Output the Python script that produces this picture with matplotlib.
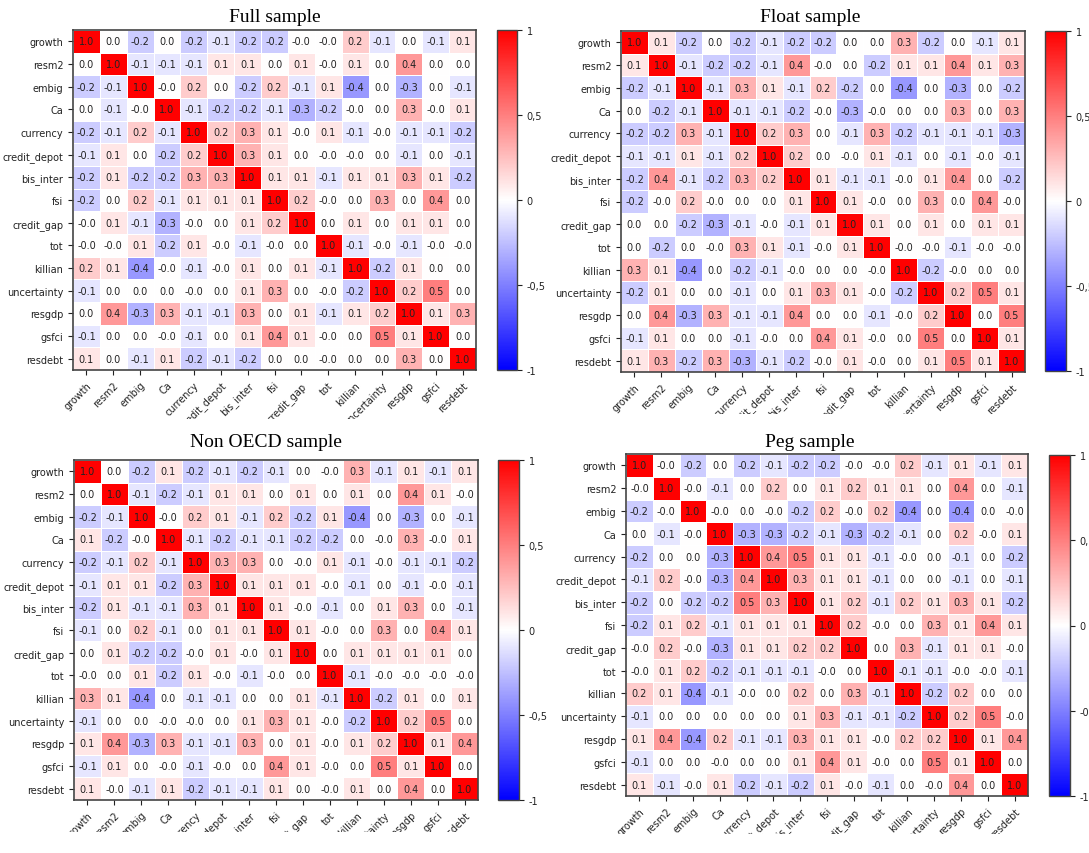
import numpy as np
import matplotlib
matplotlib.use("Agg")
from matplotlib import pyplot as plt
from matplotlib.transforms import Bbox, TransformedBbox

labels = ["growth", "resm2", "embig", "Ca", "currency", "credit_depot", "bis_inter",
          "fsi", "credit_gap", "tot", "killian", "uncertainty", "resgdp", "gsfci", "resdebt"]

full_sample = [
    [1.0, 0.0, -0.2, 0.0, -0.2, -0.1, -0.2, -0.2, -0.0, -0.0, 0.2, -0.1, 0.0, -0.1, 0.1],
    [0.0, 1.0, -0.1, -0.1, -0.1, 0.1, 0.1, 0.0, 0.1, -0.0, 0.1, 0.0, 0.4, 0.0, 0.0],
    [-0.2, -0.1, 1.0, -0.0, 0.2, 0.0, -0.2, 0.2, -0.1, 0.1, -0.4, 0.0, -0.3, 0.0, -0.1],
    [0.0, -0.1, -0.0, 1.0, -0.1, -0.2, -0.2, -0.1, -0.3, -0.2, -0.0, 0.0, 0.3, -0.0, 0.1],
    [-0.2, -0.1, 0.2, -0.1, 1.0, 0.2, 0.3, 0.1, -0.0, 0.1, -0.1, -0.0, -0.1, -0.1, -0.2],
    [-0.1, 0.1, 0.0, -0.2, 0.2, 1.0, 0.3, 0.1, 0.0, -0.0, -0.0, 0.0, -0.1, 0.0, -0.1],
    [-0.2, 0.1, -0.2, -0.2, 0.3, 0.3, 1.0, 0.1, 0.1, -0.1, 0.1, 0.1, 0.3, 0.1, -0.2],
    [-0.2, 0.0, 0.2, -0.1, 0.1, 0.1, 0.1, 1.0, 0.2, -0.0, 0.0, 0.3, 0.0, 0.4, 0.0],
    [-0.0, 0.1, -0.1, -0.3, -0.0, 0.0, 0.1, 0.2, 1.0, 0.0, 0.1, 0.0, 0.1, 0.1, 0.0],
    [-0.0, -0.0, 0.1, -0.2, 0.1, -0.0, -0.1, -0.0, 0.0, 1.0, -0.1, -0.0, -0.1, -0.0, -0.0],
    [0.2, 0.1, -0.4, -0.0, -0.1, -0.0, 0.1, 0.0, 0.1, -0.1, 1.0, -0.2, 0.1, 0.0, 0.0],
    [-0.1, 0.0, 0.0, 0.0, -0.0, 0.0, 0.1, 0.3, 0.0, -0.0, -0.2, 1.0, 0.2, 0.5, 0.0],
    [0.0, 0.4, -0.3, 0.3, -0.1, -0.1, 0.3, 0.0, 0.1, -0.1, 0.1, 0.2, 1.0, 0.1, 0.3],
    [-0.1, 0.0, 0.0, -0.0, -0.1, 0.0, 0.1, 0.4, 0.1, -0.0, 0.0, 0.5, 0.1, 1.0, 0.0],
    [0.1, 0.0, -0.1, 0.1, -0.2, -0.1, -0.2, 0.0, 0.0, -0.0, 0.0, 0.0, 0.3, 0.0, 1.0],
]

float_sample = [
    [1.0, 0.1, -0.2, 0.0, -0.2, -0.1, -0.2, -0.2, 0.0, 0.0, 0.3, -0.2, 0.0, -0.1, 0.1],
    [0.1, 1.0, -0.1, -0.2, -0.2, -0.1, 0.4, -0.0, 0.0, -0.2, 0.1, 0.1, 0.4, 0.1, 0.3],
    [-0.2, -0.1, 1.0, -0.1, 0.3, 0.1, -0.1, 0.2, -0.2, 0.0, -0.4, 0.0, -0.3, 0.0, -0.2],
    [0.0, -0.2, -0.1, 1.0, -0.1, -0.1, -0.2, -0.0, -0.3, -0.0, 0.0, 0.0, 0.3, 0.0, 0.3],
    [-0.2, -0.2, 0.3, -0.1, 1.0, 0.2, 0.3, 0.0, -0.1, 0.3, -0.2, -0.1, -0.1, -0.1, -0.3],
    [-0.1, -0.1, 0.1, -0.1, 0.2, 1.0, 0.2, 0.0, -0.0, 0.1, -0.1, 0.0, -0.1, -0.0, -0.1],
    [-0.2, 0.4, -0.1, -0.2, 0.3, 0.2, 1.0, 0.1, -0.1, -0.1, -0.0, 0.1, 0.4, 0.0, -0.2],
    [-0.2, -0.0, 0.2, -0.0, 0.0, 0.0, 0.1, 1.0, 0.1, -0.0, 0.0, 0.3, 0.0, 0.4, -0.0],
    [0.0, 0.0, -0.2, -0.3, -0.1, -0.0, -0.1, 0.1, 1.0, 0.1, 0.0, 0.1, 0.0, 0.1, 0.1],
    [0.0, -0.2, 0.0, -0.0, 0.3, 0.1, -0.1, -0.0, 0.1, 1.0, -0.0, -0.0, -0.1, -0.0, -0.0],
    [0.3, 0.1, -0.4, 0.0, -0.2, -0.1, -0.0, 0.0, 0.0, -0.0, 1.0, -0.2, -0.0, 0.0, 0.0],
    [-0.2, 0.1, 0.0, 0.0, -0.1, 0.0, 0.1, 0.3, 0.1, -0.0, -0.2, 1.0, 0.2, 0.5, 0.1],
    [0.0, 0.4, -0.3, 0.3, -0.1, -0.1, 0.4, 0.0, 0.0, -0.1, -0.0, 0.2, 1.0, 0.0, 0.5],
    [-0.1, 0.1, 0.0, 0.0, -0.1, -0.0, 0.0, 0.4, 0.1, -0.0, 0.0, 0.5, 0.0, 1.0, 0.1],
    [0.1, 0.3, -0.2, 0.3, -0.3, -0.1, -0.2, -0.0, 0.1, -0.0, 0.0, 0.1, 0.5, 0.1, 1.0],
]

non_oecd_sample = [
    [1.0, 0.0, -0.2, 0.1, -0.2, -0.1, -0.2, -0.1, 0.0, -0.0, 0.3, -0.1, 0.1, -0.1, 0.1],
    [0.0, 1.0, -0.1, -0.2, -0.1, 0.1, 0.1, 0.0, 0.1, 0.0, 0.1, 0.0, 0.4, 0.1, -0.0],
    [-0.2, -0.1, 1.0, -0.0, 0.2, 0.1, -0.1, 0.2, -0.2, 0.1, -0.4, 0.0, -0.3, 0.0, -0.1],
    [0.1, -0.2, -0.0, 1.0, -0.1, -0.2, -0.1, -0.1, -0.2, -0.2, 0.0, -0.0, 0.3, -0.0, 0.1],
    [-0.2, -0.1, 0.2, -0.1, 1.0, 0.3, 0.3, 0.0, -0.0, 0.1, -0.1, -0.0, -0.1, -0.1, -0.2],
    [-0.1, 0.1, 0.1, -0.2, 0.3, 1.0, 0.1, 0.1, 0.1, -0.0, -0.1, 0.0, -0.1, -0.0, -0.1],
    [-0.2, 0.1, -0.1, -0.1, 0.3, 0.1, 1.0, 0.1, -0.0, -0.1, 0.0, 0.1, 0.3, 0.0, -0.1],
    [-0.1, 0.0, 0.2, -0.1, 0.0, 0.1, 0.1, 1.0, 0.1, -0.0, 0.0, 0.3, 0.0, 0.4, 0.1],
    [0.0, 0.1, -0.2, -0.2, -0.0, 0.1, -0.0, 0.1, 1.0, 0.0, 0.1, 0.1, 0.1, 0.1, 0.0],
    [-0.0, 0.0, 0.1, -0.2, 0.1, -0.0, -0.1, -0.0, 0.0, 1.0, -0.1, -0.0, -0.0, -0.0, -0.0],
    [0.3, 0.1, -0.4, 0.0, -0.1, -0.1, 0.0, 0.0, 0.1, -0.1, 1.0, -0.2, 0.1, 0.0, 0.1],
    [-0.1, 0.0, 0.0, -0.0, -0.0, 0.0, 0.1, 0.3, 0.1, -0.0, -0.2, 1.0, 0.2, 0.5, 0.0],
    [0.1, 0.4, -0.3, 0.3, -0.1, -0.1, 0.3, 0.0, 0.1, -0.0, 0.1, 0.2, 1.0, 0.1, 0.4],
    [-0.1, 0.1, 0.0, -0.0, -0.1, -0.0, 0.0, 0.4, 0.1, -0.0, 0.0, 0.5, 0.1, 1.0, 0.0],
    [0.1, -0.0, -0.1, 0.1, -0.2, -0.1, -0.1, 0.1, 0.0, -0.0, 0.1, 0.0, 0.4, 0.0, 1.0],
]

peg_sample = [
    [1.0, -0.0, -0.2, 0.0, -0.2, -0.1, -0.2, -0.2, -0.0, -0.0, 0.2, -0.1, 0.1, -0.1, 0.1],
    [-0.0, 1.0, -0.0, -0.1, 0.0, 0.2, 0.0, 0.1, 0.2, 0.1, 0.1, 0.0, 0.4, 0.0, -0.1],
    [-0.2, -0.0, 1.0, -0.0, 0.0, -0.0, -0.2, 0.2, -0.0, 0.2, -0.4, 0.0, -0.4, 0.0, -0.0],
    [0.0, -0.1, -0.0, 1.0, -0.3, -0.3, -0.2, -0.1, -0.3, -0.2, -0.1, 0.0, 0.2, -0.0, 0.1],
    [-0.2, 0.0, 0.0, -0.3, 1.0, 0.4, 0.5, 0.1, 0.1, -0.1, -0.0, 0.0, -0.1, 0.0, -0.2],
    [-0.1, 0.2, -0.0, -0.3, 0.4, 1.0, 0.3, 0.1, 0.1, -0.1, 0.0, 0.0, -0.1, 0.0, -0.1],
    [-0.2, 0.0, -0.2, -0.2, 0.5, 0.3, 1.0, 0.1, 0.2, -0.1, 0.2, 0.1, 0.3, 0.1, -0.2],
    [-0.2, 0.1, 0.2, -0.1, 0.1, 0.1, 0.1, 1.0, 0.2, -0.0, 0.0, 0.3, 0.1, 0.4, 0.1],
    [-0.0, 0.2, -0.0, -0.3, 0.1, 0.1, 0.2, 0.2, 1.0, 0.0, 0.3, -0.1, 0.1, 0.1, -0.0],
    [-0.0, 0.1, 0.2, -0.2, -0.1, -0.1, -0.1, -0.0, 0.0, 1.0, -0.1, -0.1, -0.0, -0.0, -0.1],
    [0.2, 0.1, -0.4, -0.1, -0.0, 0.0, 0.2, 0.0, 0.3, -0.1, 1.0, -0.2, 0.2, 0.0, 0.0],
    [-0.1, 0.0, 0.0, 0.0, 0.0, 0.0, 0.1, 0.3, -0.1, -0.1, -0.2, 1.0, 0.2, 0.5, -0.0],
    [0.1, 0.4, -0.4, 0.2, -0.1, -0.1, 0.3, 0.1, 0.1, -0.0, 0.2, 0.2, 1.0, 0.1, 0.4],
    [-0.1, 0.0, 0.0, -0.0, 0.0, 0.0, 0.1, 0.4, 0.1, -0.0, 0.0, 0.5, 0.1, 1.0, 0.0],
    [0.1, -0.1, -0.0, 0.1, -0.2, -0.1, -0.2, 0.1, -0.0, -0.1, 0.0, -0.0, 0.4, 0.0, 1.0],
]

W, H = 1089, 854
fig = plt.figure(figsize=(W / 100, H / 100), dpi=100)


def px_rect(x0, y0, x1, y1):
    # pixel box (top-left origin) -> figure fraction rect
    return [x0 / W, 1 - y1 / H, (x1 - x0) / W, (y1 - y0) / H]


def panel(data, box, cbox, title, tx, clip):
    mat = np.array(data)
    n = len(labels)
    ax = fig.add_axes(px_rect(*box))
    mesh = ax.pcolormesh(mat, cmap="bwr", vmin=-1, vmax=1,
                         edgecolors="white", linewidth=0.6)
    ax.set_xlim(0, n)
    ax.set_ylim(n, 0)
    for i in range(n):
        for j in range(n):
            ax.text(j + 0.5, i + 0.5, "{:.1f}".format(mat[i, j]),
                    ha="center", va="center", fontsize=7, color="#222222")
    ax.set_xticks(np.arange(n) + 0.5)
    ax.set_yticks(np.arange(n) + 0.5)
    ax.set_xticklabels(labels, rotation=45, ha="right", rotation_mode="anchor")
    ax.set_yticklabels(labels)
    ax.tick_params(labelsize=7, length=3.5, width=0.8, colors="#222222")
    for sp in ax.spines.values():
        sp.set_linewidth(1.2)
        sp.set_color("#444444")

    # the original panels were separate images, cropped at their edges
    cb = TransformedBbox(Bbox.from_extents(clip[0] / W, 1 - clip[3] / H,
                                           clip[2] / W, 1 - clip[1] / H),
                         fig.transFigure)
    for t in ax.get_xticklabels() + ax.get_yticklabels():
        t.set_clip_on(True)
        t.set_clip_box(cb)

    cax = fig.add_axes(px_rect(*cbox))
    cbar = fig.colorbar(mesh, cax=cax, ticks=[-1, -0.5, 0, 0.5, 1])
    cbar.ax.set_yticklabels(["-1", "-0,5", "0", "0,5", "1"])
    cbar.ax.tick_params(labelsize=7, length=3.5, width=0.8, colors="#222222")
    cbar.outline.set_edgecolor("#444444")
    cbar.outline.set_linewidth(1.0)

    fig.text(tx[0] / W, 1 - tx[1] / H, title, ha="center", va="center",
             fontsize=14, family="Liberation Serif")


panel(full_sample, (73, 31, 476, 371), (497, 31, 517, 371), "Full sample", (275, 17), (0, 0, 545, 420))
panel(float_sample, (621, 32, 1025, 373), (1045, 32, 1066, 372), "Float sample", (810, 17), (548, 0, 1089, 415))
panel(non_oecd_sample, (74, 461, 478, 801), (498, 461, 519, 801), "Non OECD sample", (266, 443), (0, 430, 545, 833))
panel(peg_sample, (626, 455, 1028, 797), (1049, 456, 1070, 797), "Peg sample", (810, 443), (548, 430, 1089, 835))

fig.savefig("out.png", dpi=100)
